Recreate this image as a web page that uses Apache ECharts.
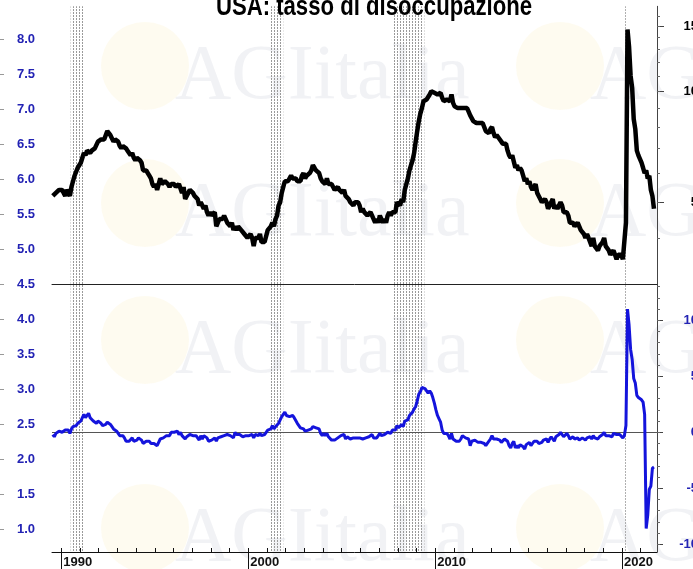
<!DOCTYPE html>
<html>
<head>
<meta charset="utf-8">
<script src="https://cdn.jsdelivr.net/npm/echarts@6/dist/echarts.min.js"></script>
<style>
  html, body { margin: 0; padding: 0; background: #fff; }
  #chart { width: 693px; height: 569px; }
</style>
</head>
<body>
<div id="chart"></div>
<script>
// monthly series, first value = July 1989, last = September 2021
var startYear = 1989;
var startMonth = 7;

// tasso di disoccupazione (%), scala logaritmica a destra
var unemployment = [
  5.2, 5.2, 5.3, 5.3, 5.4, 5.4,
  5.4, 5.3, 5.2, 5.4, 5.4, 5.2, 5.5, 5.7, 5.9, 5.9, 6.2, 6.3,
  6.4, 6.6, 6.8, 6.7, 6.9, 6.9, 6.8, 6.9, 6.9, 7.0, 7.0, 7.3,
  7.3, 7.4, 7.4, 7.4, 7.6, 7.8, 7.7, 7.6, 7.6, 7.3, 7.4, 7.4,
  7.3, 7.1, 7.0, 7.1, 7.1, 7.0, 6.9, 6.8, 6.7, 6.8, 6.6, 6.5,
  6.6, 6.6, 6.5, 6.4, 6.1, 6.1, 6.1, 6.0, 5.9, 5.8, 5.6, 5.5,
  5.6, 5.4, 5.4, 5.8, 5.6, 5.6, 5.7, 5.7, 5.6, 5.5, 5.6, 5.6,
  5.6, 5.5, 5.5, 5.6, 5.6, 5.3, 5.5, 5.1, 5.2, 5.2, 5.4, 5.4,
  5.3, 5.2, 5.2, 5.1, 4.9, 5.0, 4.9, 4.8, 4.9, 4.7, 4.6, 4.7,
  4.6, 4.6, 4.7, 4.3, 4.4, 4.5, 4.5, 4.5, 4.6, 4.5, 4.4, 4.4,
  4.3, 4.4, 4.2, 4.3, 4.2, 4.3, 4.3, 4.2, 4.2, 4.1, 4.1, 4.0,
  4.0, 4.1, 4.0, 3.8, 4.0, 4.0, 4.0, 4.1, 3.9, 3.9, 3.9, 3.9,
  4.2, 4.2, 4.3, 4.4, 4.3, 4.5, 4.6, 4.9, 5.0, 5.3, 5.5, 5.7,
  5.7, 5.7, 5.7, 5.9, 5.8, 5.8, 5.8, 5.7, 5.7, 5.7, 5.9, 6.0,
  5.8, 5.9, 5.9, 6.0, 6.1, 6.3, 6.2, 6.1, 6.1, 6.0, 5.8, 5.7,
  5.7, 5.6, 5.8, 5.6, 5.6, 5.6, 5.5, 5.4, 5.4, 5.5, 5.4, 5.4,
  5.3, 5.4, 5.2, 5.2, 5.1, 5.0, 5.0, 4.9, 5.0, 5.0, 5.0, 4.9,
  4.7, 4.8, 4.7, 4.7, 4.6, 4.6, 4.7, 4.7, 4.5, 4.4, 4.5, 4.4,
  4.6, 4.5, 4.4, 4.5, 4.4, 4.6, 4.7, 4.6, 4.7, 4.7, 4.7, 5.0,
  5.0, 4.9, 5.1, 5.0, 5.4, 5.6, 5.8, 6.1, 6.1, 6.5, 6.8, 7.3,
  7.8, 8.3, 8.7, 9.0, 9.4, 9.5, 9.5, 9.6, 9.8, 10.0, 9.9, 9.9,
  9.8, 9.8, 9.9, 9.9, 9.6, 9.4, 9.4, 9.5, 9.5, 9.4, 9.8, 9.3,
  9.1, 9.0, 9.0, 9.1, 9.0, 9.1, 9.0, 9.0, 9.0, 8.8, 8.6, 8.5,
  8.3, 8.3, 8.2, 8.2, 8.2, 8.2, 8.2, 8.0, 7.8, 7.8, 7.7, 7.9,
  8.0, 7.7, 7.5, 7.6, 7.5, 7.5, 7.3, 7.2, 7.2, 7.2, 6.9, 6.7,
  6.6, 6.7, 6.7, 6.2, 6.3, 6.1, 6.2, 6.1, 5.9, 5.7, 5.8, 5.6,
  5.7, 5.5, 5.4, 5.4, 5.6, 5.3, 5.2, 5.1, 5.0, 5.0, 5.1, 5.0,
  4.8, 4.9, 5.0, 5.1, 4.8, 4.9, 4.8, 4.9, 5.0, 4.9, 4.7, 4.7,
  4.7, 4.6, 4.4, 4.4, 4.4, 4.3, 4.3, 4.4, 4.3, 4.2, 4.2, 4.1,
  4.0, 4.1, 4.0, 4.0, 3.8, 4.0, 3.8, 3.8, 3.7, 3.8, 3.8, 3.9,
  4.0, 3.8, 3.8, 3.7, 3.6, 3.6, 3.7, 3.6, 3.5, 3.6, 3.6, 3.6,
  3.5, 3.5, 4.4, 14.7, 13.2, 11.0, 10.2, 8.4, 7.9, 6.9, 6.7, 6.7,
  6.4, 6.2, 6.0, 6.1, 5.8, 5.9, 5.4, 5.2, 4.8
];

// variazione sull'anno precedente (punti), scala lineare a destra in basso
var yoyChange = [
  -0.2, -0.4, -0.1, -0.1, 0.1, 0.1,
  0.0, 0.1, 0.2, 0.2, 0.2, -0.1, 0.3, 0.5, 0.6, 0.6, 0.8, 0.9,
  1.0, 1.3, 1.6, 1.3, 1.5, 1.7, 1.3, 1.2, 1.0, 1.1, 0.8, 1.0,
  0.9, 0.8, 0.6, 0.7, 0.7, 0.9, 0.9, 0.7, 0.7, 0.3, 0.4, 0.1,
  0.0, -0.3, -0.4, -0.3, -0.5, -0.8, -0.8, -0.8, -0.9, -0.5, -0.8, -0.9,
  -0.7, -0.5, -0.5, -0.7, -1.0, -0.9, -0.8, -0.8, -0.8, -1.0, -1.0, -1.0,
  -1.0, -1.2, -1.1, -0.6, -0.5, -0.5, -0.4, -0.3, -0.3, -0.3, 0.0, 0.1,
  0.0, 0.1, 0.1, -0.2, 0.0, -0.3, -0.2, -0.6, -0.4, -0.3, -0.2, -0.2,
  -0.3, -0.3, -0.3, -0.5, -0.7, -0.3, -0.6, -0.3, -0.3, -0.5, -0.8, -0.7,
  -0.7, -0.6, -0.5, -0.8, -0.5, -0.5, -0.4, -0.3, -0.3, -0.2, -0.2, -0.3,
  -0.3, -0.2, -0.5, 0.0, -0.2, -0.2, -0.2, -0.3, -0.4, -0.4, -0.3, -0.4,
  -0.3, -0.3, -0.2, -0.5, -0.2, -0.3, -0.3, -0.1, -0.3, -0.2, -0.2, -0.1,
  0.2, 0.1, 0.3, 0.6, 0.3, 0.5, 0.6, 0.8, 1.1, 1.4, 1.6, 1.8,
  1.5, 1.5, 1.4, 1.5, 1.5, 1.3, 1.2, 0.8, 0.7, 0.4, 0.4, 0.3,
  0.1, 0.2, 0.2, 0.1, 0.3, 0.5, 0.4, 0.4, 0.4, 0.3, -0.1, -0.3,
  -0.1, -0.3, -0.1, -0.4, -0.5, -0.7, -0.7, -0.7, -0.7, -0.5, -0.4, -0.3,
  -0.4, -0.2, -0.6, -0.4, -0.5, -0.6, -0.5, -0.5, -0.4, -0.5, -0.4, -0.5,
  -0.6, -0.6, -0.5, -0.5, -0.5, -0.4, -0.3, -0.2, -0.5, -0.6, -0.5, -0.5,
  -0.1, -0.3, -0.3, -0.2, -0.2, 0.0, 0.0, -0.1, 0.2, 0.3, 0.2, 0.6,
  0.4, 0.4, 0.7, 0.5, 1.0, 1.0, 1.1, 1.5, 1.4, 1.8, 2.1, 2.3,
  2.8, 3.4, 3.6, 4.0, 4.0, 3.9, 3.7, 3.5, 3.7, 3.5, 3.1, 2.6,
  2.0, 1.5, 1.2, 0.9, 0.2, -0.1, -0.1, -0.1, -0.3, -0.6, -0.1, -0.6,
  -0.7, -0.8, -0.9, -0.8, -0.6, -0.3, -0.4, -0.5, -0.5, -0.6, -1.2, -0.8,
  -0.8, -0.7, -0.8, -0.9, -0.8, -0.9, -0.8, -1.0, -1.2, -1.0, -0.9, -0.6,
  -0.3, -0.6, -0.7, -0.6, -0.7, -0.7, -0.9, -0.8, -0.6, -0.6, -0.8, -1.2,
  -1.4, -1.0, -0.8, -1.4, -1.2, -1.4, -1.1, -1.1, -1.3, -1.5, -1.1, -1.1,
  -0.9, -1.2, -1.3, -0.8, -0.7, -0.8, -1.0, -1.0, -0.9, -0.7, -0.7, -0.6,
  -0.9, -0.6, -0.4, -0.3, -0.8, -0.4, -0.4, -0.2, 0.0, -0.1, -0.4, -0.3,
  -0.1, -0.3, -0.6, -0.7, -0.4, -0.6, -0.5, -0.5, -0.7, -0.7, -0.5, -0.6,
  -0.7, -0.5, -0.4, -0.4, -0.6, -0.3, -0.5, -0.6, -0.6, -0.4, -0.4, -0.2,
  0.0, -0.3, -0.2, -0.3, -0.2, -0.4, -0.1, -0.2, -0.2, -0.2, -0.2, -0.3,
  -0.5, -0.3, 0.6, 11.0, 9.6, 7.4, 6.5, 4.8, 4.4, 3.3, 3.1, 3.1,
  2.9, 2.7, 1.6, -8.6, -7.4, -5.1, -4.8, -3.2, -3.1
];

// recessioni (anni decimali, inizio-fine)
var recessions = [
  [1990.50, 1991.22],
  [2001.16, 2001.87],
  [2007.78, 2009.42],
  [2020.17, 2020.30]
];

var leftTicks = [1.0, 1.5, 2.0, 2.5, 3.0, 3.5, 4.0, 4.5, 5.0, 5.5, 6.0, 6.5, 7.0, 7.5, 8.0];
var upperRightLabels = [5, 10, 15];
var upperRightMinor = [4, 5, 6, 7, 8, 9, 10, 11, 12, 13, 14, 15, 16];
var lowerRightLabels = [-10, -5, 0, 5, 10];
var lowerRightMinor = [-10, -9, -8, -7, -6, -5, -4, -3, -2, -1, 0, 1, 2, 3, 4, 5, 6, 7, 8, 9, 10, 11, 12, 13];
var yearTicks = [1990, 1991, 1992, 1993, 1994, 1995, 1996, 1997, 1998, 1999, 2000, 2001, 2002, 2003,
  2004, 2005, 2006, 2007, 2008, 2009, 2010, 2011, 2012, 2013, 2014, 2015, 2016, 2017, 2018, 2019, 2020, 2021];
var decadeTicks = [1990, 2000, 2010, 2020];

var xMin = 1989.5, xMax = 2021.87;

function toPairs(values) {
  var out = [];
  values.forEach(function (v, i) {
    out.push([startYear + (startMonth - 1 + i + 0.5) / 12, v]);
  });
  return out;
}

// motivo a puntini per le bande di recessione
var hatch = document.createElement("canvas");
hatch.width = 3;
hatch.height = 3;
var hctx = hatch.getContext("2d");
hctx.fillStyle = "#9a9a9a";
hctx.fillRect(1, 0, 1, 2);

var bands = recessions.map(function (r) {
  return [{ xAxis: r[0] }, { xAxis: r[1] }];
});

var labelFont = "Liberation Sans";

// filigrana AGI (molto chiara)
var wmRows = [78, 215, 352, 540];
var wmCols = [175, 590];
var watermark = [];
wmRows.forEach(function (y) {
  wmCols.forEach(function (x) {
    watermark.push({
      type: "circle", z: 0, silent: true,
      shape: { cx: x - 30, cy: y - 12, r: 44 },
      style: { fill: "rgba(250, 240, 200, 0.28)" }
    });
    watermark.push({
      type: "text", z: 0, silent: true, x: x, y: y,
      style: {
        text: "AGIitalia",
        verticalAlign: "middle",
        font: '78px "Liberation Serif"',
        fill: "rgba(200, 205, 218, 0.26)"
      }
    });
  });
});

var myChart = echarts.init(document.getElementById("chart"));
var option = {
  animation: false,
  backgroundColor: "#fff",
  graphic: watermark.concat([
    {
      type: "text",
      x: 374,
      y: 21,
      z: 10,
      scaleX: 0.82,
      style: {
        text: "USA: tasso di disoccupazione",
        fill: "#000",
        font: 'bold 27px "Liberation Sans"',
        align: "center",
        verticalAlign: "bottom"
      }
    }
  ]),
  grid: [
    { left: 52, right: 36, top: 6.3, bottom: 285, outerBoundsMode: "none" },
    { left: 52, right: 36, top: 284, bottom: 17, outerBoundsMode: "none" },
    { left: 52, right: 36, top: 4, bottom: 5, outerBoundsMode: "none" }
  ],
  xAxis: [
    {
      gridIndex: 0, type: "value", min: xMin, max: xMax, position: "bottom",
      axisLine: { show: true, onZero: false, lineStyle: { color: "#222", width: 1 } },
      axisTick: { show: false }, axisLabel: { show: false }, splitLine: { show: false }
    },
    {
      gridIndex: 1, type: "value", min: xMin, max: xMax, position: "bottom",
      axisLine: { show: true, onZero: false, lineStyle: { color: "#111", width: 1 } },
      axisTick: { show: true, inside: true, length: 4, customValues: yearTicks, lineStyle: { color: "#111" } },
      axisLabel: { show: false }, splitLine: { show: false }
    },
    {
      gridIndex: 1, type: "value", min: xMin, max: xMax, position: "bottom",
      axisLine: { show: false, onZero: false },
      axisTick: { show: true, inside: false, length: 18, customValues: decadeTicks, lineStyle: { color: "#111" } },
      axisLabel: {
        show: true, customValues: decadeTicks, align: "left", margin: 4,
        padding: [0, 0, 0, 2], color: "#111", fontWeight: "bold", fontSize: 13, fontFamily: labelFont,
        formatter: function (v) { return String(Math.round(v)); }
      },
      splitLine: { show: false }
    },
    { gridIndex: 2, type: "value", min: xMin, max: xMax, show: false }
  ],
  yAxis: [
    {
      gridIndex: 0, type: "log", logBase: 10, min: 3, max: 17, position: "right",
      axisLine: { show: true, lineStyle: { color: "#444" } },
      axisTick: { show: true, length: 7, customValues: upperRightLabels, lineStyle: { color: "#444" } },
      axisLabel: {
        show: true, customValues: upperRightLabels, align: "right", margin: 41,
        color: "#000", fontWeight: "bold", fontSize: 13, fontFamily: labelFont
      },
      splitLine: { show: false }
    },
    {
      gridIndex: 0, type: "log", logBase: 10, min: 3, max: 17, position: "right",
      axisLine: { show: false },
      axisTick: { show: true, length: 3, customValues: upperRightMinor, lineStyle: { color: "#666" } },
      axisLabel: { show: false }, splitLine: { show: false }
    },
    {
      gridIndex: 1, type: "value", min: -10.69, max: 13.24, position: "right",
      axisLine: { show: true, lineStyle: { color: "#444" } },
      axisTick: { show: true, length: 6, customValues: lowerRightLabels, lineStyle: { color: "#444" } },
      axisLabel: {
        show: true, customValues: lowerRightLabels, align: "right", margin: 41,
        color: "#2323b4", fontWeight: "bold", fontSize: 13, fontFamily: labelFont
      },
      splitLine: { show: false }
    },
    {
      gridIndex: 1, type: "value", min: -10.69, max: 13.24, position: "right",
      axisLine: { show: false },
      axisTick: { show: true, length: 3, customValues: lowerRightMinor, lineStyle: { color: "#666" } },
      axisLabel: { show: false }, splitLine: { show: false }
    },
    {
      gridIndex: 2, type: "value", min: 0.5, max: 8.5, position: "left", offset: 52,
      axisLine: { show: false },
      axisTick: { show: true, inside: true, length: 4, customValues: leftTicks, lineStyle: { color: "#999" } },
      axisLabel: {
        show: true, inside: true, customValues: leftTicks, margin: 17,
        color: "#2323b4", fontWeight: "bold", fontSize: 13, fontFamily: labelFont,
        formatter: function (v) { return v.toFixed(1); }
      },
      splitLine: { show: false }
    }
  ],
  series: [
    {
      name: "tasso di disoccupazione",
      type: "line",
      xAxisIndex: 0,
      yAxisIndex: 0,
      data: toPairs(unemployment),
      showSymbol: false,
      lineStyle: { color: "#000", width: 4.5 },
      z: 5,
      markArea: {
        silent: true,
        itemStyle: { color: { image: hatch, repeat: "repeat" } },
        data: bands
      }
    },
    {
      name: "variazione annua",
      type: "line",
      xAxisIndex: 1,
      yAxisIndex: 2,
      data: toPairs(yoyChange),
      showSymbol: false,
      lineStyle: { color: "#1414dc", width: 3 },
      z: 5,
      markArea: {
        silent: true,
        itemStyle: { color: { image: hatch, repeat: "repeat" } },
        data: bands
      },
      markLine: {
        silent: true,
        symbol: "none",
        label: { show: false },
        lineStyle: { color: "#555", width: 1, type: "solid" },
        data: [{ yAxis: 0 }]
      }
    }
  ]
};
myChart.setOption(option, true);
</script>
</body>
</html>
